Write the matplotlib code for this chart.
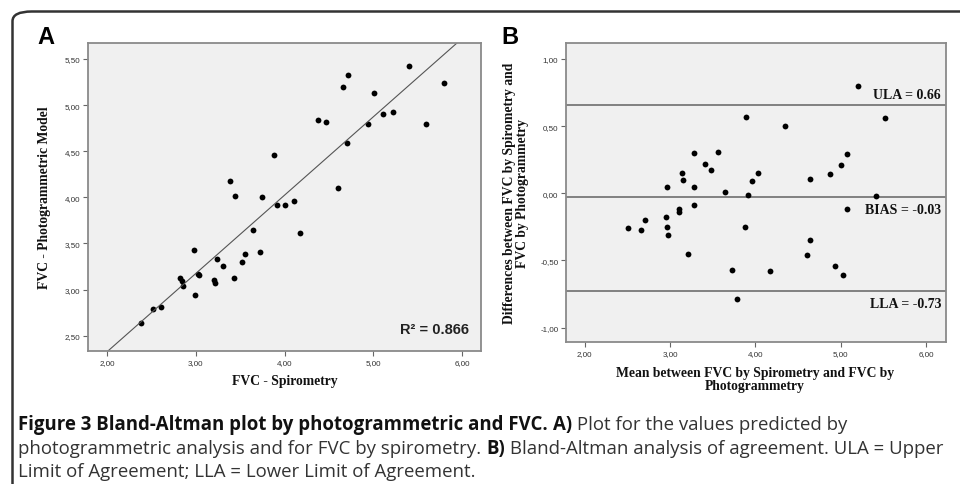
import numpy as np
import matplotlib
matplotlib.use("Agg")
import matplotlib.pyplot as plt
from matplotlib.patches import FancyBboxPatch
from matplotlib.ticker import FuncFormatter, MultipleLocator

# FVC values (litres), one pair per subject
spirometry = [5.40, 5.80, 4.72, 4.66, 5.01, 4.38, 4.47, 4.94, 5.11, 5.22,
              5.60, 4.70, 3.88, 3.39, 4.60, 3.44, 3.75, 3.91, 4.01, 4.11,
              4.18, 3.65, 2.98, 3.72, 3.56, 3.52, 3.24, 3.31, 3.04, 3.03,
              3.43, 2.82, 2.84, 2.86, 3.20, 3.22, 2.99, 2.52, 2.61, 2.38]
photogrammetry = [5.42, 5.24, 5.33, 5.20, 5.13, 4.84, 4.82, 4.80, 4.90, 4.93,
                  4.80, 4.59, 4.46, 4.18, 4.10, 4.01, 4.00, 3.92, 3.92, 3.96,
                  3.61, 3.64, 3.43, 3.41, 3.39, 3.30, 3.33, 3.26, 3.16, 3.17,
                  3.13, 3.13, 3.09, 3.04, 3.10, 3.07, 2.94, 2.79, 2.81, 2.64]
r2_label = "R² = 0.866"

# Bland-Altman limits as printed on panel B
ULA = 0.66
BIAS = -0.03
LLA = -0.73

W, H = 960, 485
BG = "#f0f0f0"
SPINE = "#8a8a8a"


def fx(x):
    return x / W


def fy(y):
    return 1 - y / H


def comma(v, pos):
    return f"{v:.2f}".replace(".", ",")


def style_axes(ax):
    ax.set_facecolor(BG)
    for s in ax.spines.values():
        s.set_color(SPINE)
        s.set_linewidth(1.3)
    ax.tick_params(axis="both", direction="out", length=3.5, width=0.8,
                   color="#666666", labelsize=5.8, labelcolor="#333333", pad=2)
    for lab in ax.get_xticklabels() + ax.get_yticklabels():
        lab.set_family("Liberation Sans")
    ax.xaxis.set_major_formatter(FuncFormatter(comma))
    ax.yaxis.set_major_formatter(FuncFormatter(comma))
    ax.xaxis.set_major_locator(MultipleLocator(1.0))


s = np.array(spirometry)
p = np.array(photogrammetry)

fig = plt.figure(figsize=(9.6, 4.85), dpi=100)
fig.patch.set_facecolor("white")

# outer rounded frame (open to the right and bottom)
frame = FancyBboxPatch((fx(12.5), fy(520)), fx(1000), 520 / H - 12.5 / H,
                       boxstyle="round,pad=0,rounding_size=0.02",
                       transform=fig.transFigure, fill=False,
                       edgecolor="#333333", linewidth=1.8, clip_on=False)
fig.patches.append(frame)

# ---- panel A ----
axA = fig.add_axes([fx(88), fy(352.3), fx(481 - 88), (352.3 - 44.3) / H])
style_axes(axA)
axA.yaxis.set_major_locator(MultipleLocator(0.5))
axA.set_xlim(1.785, 6.215)
axA.set_ylim(2.33, 5.67)
axA.plot(s, p, "o", color="black", ms=4.2, mew=0)
coef = np.polyfit(s, p, 1)
xl = np.array(axA.get_xlim())
axA.plot(xl, np.polyval(coef, xl), color="#555555", lw=0.8)
axA.set_xlim(1.785, 6.215)
axA.text(0.97, 0.05, r2_label, transform=axA.transAxes, ha="right", va="bottom",
         fontsize=10.5, fontweight="bold", family="Liberation Sans", color="#222222")

fig.text(fx(45), fy(198), "FVC - Photogrammetric Model", rotation=90,
         ha="center", va="center", fontsize=9.8, fontweight="bold",
         family="Liberation Serif", color="#111111")
fig.text(fx(285), fy(382), "FVC - Spirometry", ha="center", va="center",
         fontsize=9.8, fontweight="bold", family="Liberation Serif", color="#111111")
fig.text(fx(37), fy(44), "A", ha="left", va="baseline", fontsize=17,
         fontweight="bold", family="Liberation Sans")

# ---- panel B ----
mean = (s + p) / 2
diff = s - p
axB = fig.add_axes([fx(566), fy(343.3), fx(945.7 - 566), (343.3 - 44.3) / H])
style_axes(axB)
axB.yaxis.set_major_locator(MultipleLocator(0.5))
axB.set_xlim(1.78, 6.23)
axB.set_ylim(-1.11, 1.117)
for lvl in (ULA, BIAS, LLA):
    axB.axhline(lvl, color="#808080", lw=1.4)
axB.plot(mean, diff, "o", color="black", ms=4.2, mew=0)

lab_kw = dict(ha="right", fontsize=10, fontweight="bold",
              family="Liberation Serif", color="#111111")
axB.text(6.175, ULA + 0.025, f"ULA = {ULA:.2f}", va="bottom", **lab_kw)
axB.text(6.175, BIAS - 0.04, f"BIAS = {BIAS:.2f}", va="top", **lab_kw)
axB.text(6.175, LLA - 0.04, f"LLA = {LLA:.2f}", va="top", **lab_kw)

fig.text(fx(516), fy(193.5),
         "Differences between FVC by Spirometry and\nFVC by Photogrammetry",
         rotation=90, ha="center", va="center", fontsize=9.8, fontweight="bold",
         family="Liberation Serif", color="#111111", linespacing=0.95)
fig.text(fx(755), fy(380),
         "Mean between FVC by Spirometry and FVC by\nPhotogrammetry",
         ha="center", va="center", fontsize=9.8, fontweight="bold",
         family="Liberation Serif", color="#111111", linespacing=0.95)
fig.text(fx(501), fy(44), "B", ha="left", va="baseline", fontsize=17,
         fontweight="bold", family="Liberation Sans")

# ---- caption ----
caption = [
    [("Figure 3 Bland-Altman plot by photogrammetric and FVC. ", "bold"),
     ("A)", "bold"), (" Plot for the values predicted by", "normal")],
    [("photogrammetric analysis and for FVC by spirometry. ", "normal"),
     ("B)", "bold"), (" Bland-Altman analysis of agreement. ULA = Upper", "normal")],
    [("Limit of Agreement; LLA = Lower Limit of Agreement.", "normal")],
]
line_y = [425, 449, 472]
renderer = fig.canvas.get_renderer()
for pieces, yy in zip(caption, line_y):
    x = 18
    for txt, wt in pieces:
        t = fig.text(fx(x), fy(yy), txt, ha="left", va="center", fontsize=13.4,
                     fontweight=wt, family="Open Sans",
                     color="#111111" if wt == "bold" else "#333333")
        bb = t.get_window_extent(renderer)
        x += bb.width

fig.savefig("out.png", dpi=100, facecolor="white")
